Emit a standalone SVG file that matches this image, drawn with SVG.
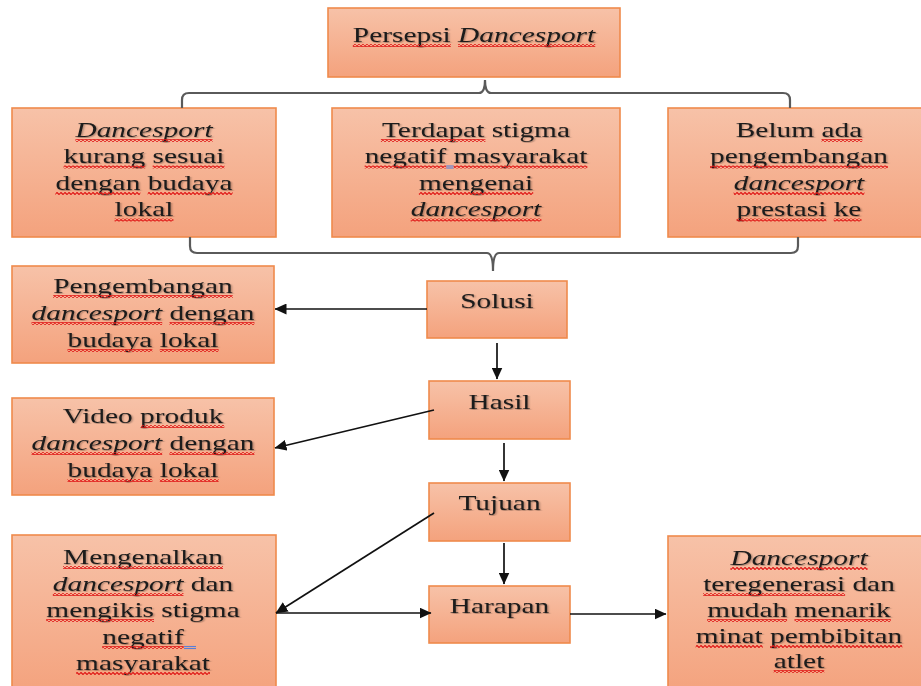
<svg xmlns="http://www.w3.org/2000/svg" width="921" height="686" viewBox="0 0 921 686">
<defs>
<linearGradient id="gOrange" x1="0" y1="0" x2="0" y2="1">
<stop offset="0" stop-color="#f7c2a8"/>
<stop offset="1" stop-color="#f4a27d"/>
</linearGradient>
<marker id="arr" markerUnits="userSpaceOnUse" viewBox="0 0 12 11" markerWidth="12" markerHeight="11" refX="11.5" refY="5.5" orient="auto">
<path d="M0,0 L12,5.5 L0,11 z" fill="#111"/>
</marker>
<filter id="sh" x="-10%" y="-30%" width="120%" height="160%">
<feDropShadow dx="0.8" dy="0.8" stdDeviation="0.7" flood-color="#000" flood-opacity="0.35"/>
</filter>
<pattern id="wave" patternUnits="userSpaceOnUse" width="4" height="3">
<path d="M0,1.5 L1,0.5 L3,2.5 L4,1.5" fill="none" stroke="#e01515" stroke-width="1.2"/>
</pattern>
</defs>
<style>
.box{fill:url(#gOrange);stroke:#ef8a4c;stroke-width:1.6}
.t{font-family:"Liberation Serif","Times New Roman",serif;font-size:21px;fill:#1a1a1a;text-anchor:middle;filter:url(#sh)}
.i{font-style:italic}
.con{fill:none;stroke:#111;stroke-width:1.7}
.brace{fill:none;stroke:#5a5a5a;stroke-width:2.2}
.sq{fill:url(#wave)}
.blue{stroke:#5b7fd6;stroke-width:1.1}
</style>

<g id="persepsi">
<rect class="box" x="328" y="8" width="292" height="69"/>
<g transform="translate(474,0) scale(1.4,1)">
<text class="t" x="0" y="42">Persepsi <tspan class="i">Dancesport</tspan></text>
</g>
</g>

<g id="kurang-sesuai">
<rect class="box" x="12" y="108" width="264" height="129"/>
<g transform="translate(144,0) scale(1.4,1)">
<text class="t" x="0" y="137"><tspan class="i">Dancesport</tspan></text>
<text class="t" x="0" y="163.5">kurang sesuai</text>
<text class="t" x="0" y="190">dengan budaya</text>
<text class="t" x="0" y="216.5">lokal</text>
</g>
</g>

<g id="stigma">
<rect class="box" x="332" y="108" width="288" height="129"/>
<g transform="translate(476,0) scale(1.4,1)">
<text class="t" x="0" y="137">Terdapat stigma</text>
<text class="t" x="0" y="163.5">negatif masyarakat</text>
<text class="t" x="0" y="190">mengenai</text>
<text class="t" x="0" y="216.5"><tspan class="i">dancesport</tspan></text>
</g>
</g>

<g id="belum-ada">
<rect class="box" x="668" y="108" width="262" height="129"/>
<g transform="translate(799,0) scale(1.4,1)">
<text class="t" x="0" y="137">Belum ada</text>
<text class="t" x="0" y="163.5">pengembangan</text>
<text class="t" x="0" y="190"><tspan class="i">dancesport</tspan></text>
<text class="t" x="0" y="216.5">prestasi ke</text>
</g>
</g>

<g id="solusi">
<rect class="box" x="427" y="281" width="140" height="57"/>
<g transform="translate(497,0) scale(1.4,1)">
<text class="t" x="0" y="308">Solusi</text>
</g>
</g>

<g id="hasil">
<rect class="box" x="429" y="381" width="141" height="58"/>
<g transform="translate(499.5,0) scale(1.4,1)">
<text class="t" x="0" y="409">Hasil</text>
</g>
</g>

<g id="tujuan">
<rect class="box" x="429" y="483" width="141" height="58"/>
<g transform="translate(499.5,0) scale(1.4,1)">
<text class="t" x="0" y="510">Tujuan</text>
</g>
</g>

<g id="harapan">
<rect class="box" x="429" y="586" width="141" height="57"/>
<g transform="translate(499.5,0) scale(1.4,1)">
<text class="t" x="0" y="613">Harapan</text>
</g>
</g>

<g id="pengembangan">
<rect class="box" x="12" y="266" width="262" height="97"/>
<g transform="translate(143,0) scale(1.4,1)">
<text class="t" x="0" y="293">Pengembangan</text>
<text class="t" x="0" y="320"><tspan class="i">dancesport</tspan> dengan</text>
<text class="t" x="0" y="347">budaya lokal</text>
</g>
</g>

<g id="video">
<rect class="box" x="12" y="398" width="262" height="97"/>
<g transform="translate(143,0) scale(1.4,1)">
<text class="t" x="0" y="423">Video produk</text>
<text class="t" x="0" y="450"><tspan class="i">dancesport</tspan> dengan</text>
<text class="t" x="0" y="477">budaya lokal</text>
</g>
</g>

<g id="mengenalkan">
<rect class="box" x="12" y="535" width="264" height="160"/>
<g transform="translate(143,0) scale(1.4,1)">
<text class="t" x="0" y="564">Mengenalkan</text>
<text class="t" x="0" y="591"><tspan class="i">dancesport</tspan> dan</text>
<text class="t" x="0" y="617">mengikis stigma</text>
<text class="t" x="0" y="644">negatif</text>
<text class="t" x="0" y="670">masyarakat</text>
</g>
</g>

<g id="regenerasi">
<rect class="box" x="668" y="536" width="262" height="160"/>
<g transform="translate(799,0) scale(1.4,1)">
<text class="t" x="0" y="565"><tspan class="i">Dancesport</tspan></text>
<text class="t" x="0" y="591">teregenerasi dan</text>
<text class="t" x="0" y="617">mudah menarik</text>
<text class="t" x="0" y="643">minat pembibitan</text>
<text class="t" x="0" y="668">atlet</text>
</g>
</g>

<g id="spellcheck">
<rect class="sq" x="352.8" y="44" width="98" height="3"/>
<rect class="sq" x="458.1" y="44" width="137.2" height="3"/>
<rect class="sq" x="75.4" y="139" width="137.2" height="3"/>
<rect class="sq" x="63.6" y="165.5" width="81.6" height="3"/>
<rect class="sq" x="152.6" y="165.5" width="71.9" height="3"/>
<rect class="sq" x="55.4" y="192" width="84.9" height="3"/>
<rect class="sq" x="147.7" y="192" width="84.9" height="3"/>
<rect class="sq" x="114.6" y="218.5" width="58.8" height="3"/>
<rect class="sq" x="380.9" y="139" width="104.5" height="3"/>
<rect class="sq" x="364.6" y="165.5" width="81.6" height="3"/>
<rect class="sq" x="453.5" y="165.5" width="133.9" height="3"/>
<rect class="sq" x="418.9" y="192" width="114.3" height="3"/>
<rect class="sq" x="410.7" y="218.5" width="130.7" height="3"/>
<rect class="sq" x="821.5" y="139" width="40.8" height="3"/>
<rect class="sq" x="710" y="165.5" width="178" height="3"/>
<rect class="sq" x="733.7" y="192" width="130.7" height="3"/>
<rect class="sq" x="736.5" y="218.5" width="89.8" height="3"/>
<rect class="sq" x="833.7" y="218.5" width="27.8" height="3"/>
<rect class="sq" x="53.2" y="295" width="179.6" height="3"/>
<rect class="sq" x="31.5" y="322" width="130.7" height="3"/>
<rect class="sq" x="169.5" y="322" width="84.9" height="3"/>
<rect class="sq" x="67.5" y="349" width="84.9" height="3"/>
<rect class="sq" x="159.8" y="349" width="58.8" height="3"/>
<rect class="sq" x="141" y="425" width="83.3" height="3"/>
<rect class="sq" x="31.5" y="452" width="130.7" height="3"/>
<rect class="sq" x="169.5" y="452" width="84.9" height="3"/>
<rect class="sq" x="67.5" y="479" width="84.9" height="3"/>
<rect class="sq" x="159.8" y="479" width="58.8" height="3"/>
<rect class="sq" x="63" y="566" width="160" height="3"/>
<rect class="sq" x="52.8" y="593" width="130.7" height="3"/>
<rect class="sq" x="46.2" y="619" width="107.8" height="3"/>
<rect class="sq" x="102.2" y="646" width="81.6" height="3"/>
<rect class="sq" x="76.1" y="672" width="133.9" height="3"/>
<rect class="sq" x="730.4" y="567" width="137.2" height="3"/>
<rect class="sq" x="703.1" y="593" width="142" height="3"/>
<rect class="sq" x="707.1" y="619" width="80" height="3"/>
<rect class="sq" x="794.5" y="619" width="96.3" height="3"/>
<rect class="sq" x="695.7" y="645" width="67" height="3"/>
<rect class="sq" x="770" y="645" width="132.3" height="3"/>
<rect class="sq" x="773.7" y="670" width="50.6" height="3"/>
<line class="blue" x1="446.2" y1="166" x2="453.5" y2="166"/>
<line class="blue" x1="446.2" y1="168" x2="453.5" y2="168"/>
<line class="blue" x1="184" y1="646.5" x2="196" y2="646.5"/>
<line class="blue" x1="184" y1="648.5" x2="196" y2="648.5"/>
</g>

<g id="connectors">
<path class="brace" d="M182,108 L182,100 Q182,93 189,93 L479,93 Q485,93 485,80 Q485,93 491,93 L783,93 Q790,93 790,100 L790,108"/>
<path class="brace" d="M190,237 L190,246 Q190,253 197,253 L487,253 Q493,253 493,271 Q493,253 499,253 L791,253 Q798,253 798,246 L798,237"/>
<line class="con" x1="427" y1="309" x2="275" y2="309" marker-end="url(#arr)"/>
<line class="con" x1="497" y1="343" x2="497" y2="379" marker-end="url(#arr)"/>
<line class="con" x1="434" y1="410" x2="275" y2="448" marker-end="url(#arr)"/>
<line class="con" x1="504" y1="443" x2="504" y2="481" marker-end="url(#arr)"/>
<line class="con" x1="434" y1="513" x2="276" y2="613" marker-end="url(#arr)"/>
<line class="con" x1="504" y1="543" x2="504" y2="584" marker-end="url(#arr)"/>
<line class="con" x1="276" y1="613" x2="431" y2="613" marker-end="url(#arr)"/>
<line class="con" x1="570" y1="614" x2="666" y2="614" marker-end="url(#arr)"/>
</g>
</svg>
